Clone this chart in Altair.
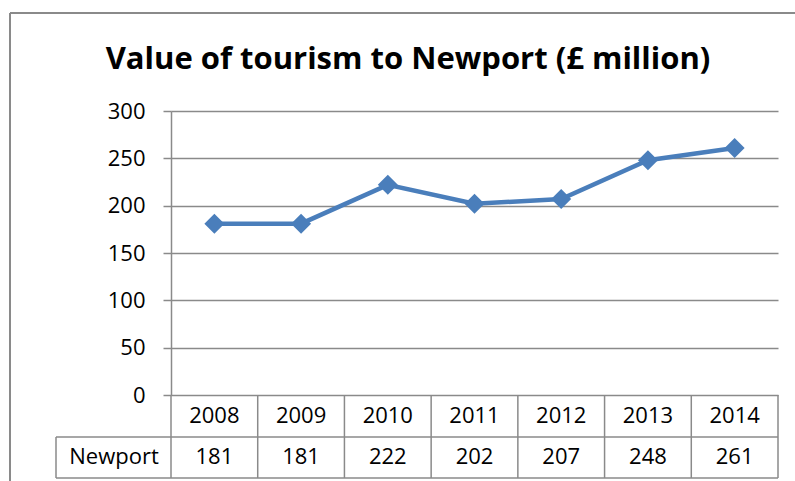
import altair as alt
import pandas as pd

years = [2008, 2009, 2010, 2011, 2012, 2013, 2014]
values = [181, 181, 222, 202, 207, 248, 261]
series_name = "Newport"
title_text = "Value of tourism to Newport (£ million)"
y_ticks = [0, 50, 100, 150, 200, 250, 300]

FONT = "Open Sans"
GRAY = "#8a8a8a"
BLUE = "#4A7EBB"
W, H = 607, 284
FS = 22

df = pd.DataFrame({"year": years, "value": values, "label": [str(y) for y in years],
                   "vlabel": [str(v) for v in values]})
edges = pd.DataFrame({"edge": [y - 0.5 for y in years] + [years[-1] + 0.5]})
one = pd.DataFrame({"k": [0]})

xscale = alt.Scale(domain=[years[0] - 0.5, years[-1] + 0.5], nice=False, zero=False)
yscale = alt.Scale(domain=[0, 300], nice=False)

line = alt.Chart(df).mark_line(color=BLUE, strokeWidth=4.5).encode(
    x=alt.X("year:Q", scale=xscale, axis=None),
    y=alt.Y("value:Q", scale=yscale,
            axis=alt.Axis(values=y_ticks, title=None, grid=True, gridColor=GRAY,
                          gridWidth=1.5, domainColor=GRAY, domainWidth=1.5,
                          tickColor=GRAY, tickWidth=1.5, tickSize=8,
                          labelFont=FONT, labelFontSize=FS, labelColor="black",
                          labelPadding=18)),
)
pts = alt.Chart(df).mark_point(shape="diamond", filled=True, size=400, opacity=1,
                               color=BLUE).encode(
    x=alt.X("year:Q", scale=xscale), y=alt.Y("value:Q", scale=yscale))

# data table grid
vlines = alt.Chart(edges).mark_rule(color=GRAY, strokeWidth=1.5).encode(
    x=alt.X("edge:Q", scale=xscale), y=alt.value(H), y2=alt.value(367))
h1 = alt.Chart(one).mark_rule(color=GRAY, strokeWidth=1.5).encode(
    x=alt.value(-115), x2=alt.value(W), y=alt.value(326))
h2 = alt.Chart(one).mark_rule(color=GRAY, strokeWidth=1.5).encode(
    x=alt.value(-115), x2=alt.value(W), y=alt.value(367))
vleft = alt.Chart(one).mark_rule(color=GRAY, strokeWidth=1.5).encode(
    x=alt.value(-115), y=alt.value(326), y2=alt.value(367))

yr_text = alt.Chart(df).mark_text(font=FONT, fontSize=FS, baseline="middle",
                                  color="black").encode(
    x=alt.X("year:Q", scale=xscale), y=alt.value(305), text="label:N")
val_text = alt.Chart(df).mark_text(font=FONT, fontSize=FS, baseline="middle",
                                   color="black").encode(
    x=alt.X("year:Q", scale=xscale), y=alt.value(346), text="vlabel:N")
name_text = alt.Chart(one).mark_text(font=FONT, fontSize=FS, baseline="middle",
                                     color="black", text=series_name).encode(
    x=alt.value(-57), y=alt.value(346))

# chart area border
btop = alt.Chart(one).mark_rule(color=GRAY, strokeWidth=2).encode(
    x=alt.value(-161), x2=alt.value(630), y=alt.value(-98))
bleft = alt.Chart(one).mark_rule(color=GRAY, strokeWidth=2).encode(
    x=alt.value(-161), y=alt.value(-98), y2=alt.value(380))

title = alt.Chart(one).mark_text(font=FONT, fontSize=31, fontWeight="bold",
                                 baseline="alphabetic", align="center",
                                 color="black", text=title_text).encode(
    x=alt.value(237), y=alt.value(-42))

chart = alt.layer(line, pts, vlines, h1, h2, vleft, yr_text, val_text, name_text,
                  btop, bleft, title).properties(
    width=W, height=H,
    autosize=alt.AutoSizeParams(type="none"),
    padding={"left": 171, "top": 111, "right": 17, "bottom": 86},
    background="white",
).configure_view(stroke=None)

chart.save("out.html", embed_options={"renderer": "svg", "actions": False})
